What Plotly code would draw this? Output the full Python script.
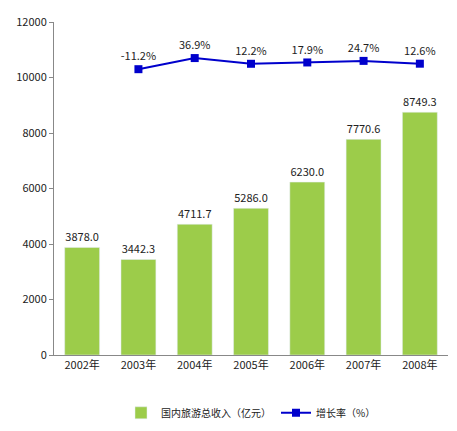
import plotly.graph_objects as go

years = ["2002年", "2003年", "2004年", "2005年", "2006年", "2007年", "2008年"]
revenue = [3878.0, 3442.3, 4711.7, 5286.0, 6230.0, 7770.6, 8749.3]
growth_years = years[1:]
growth = [-11.2, 36.9, 12.2, 17.9, 24.7, 12.6]
yticks = [0, 2000, 4000, 6000, 8000, 10000, 12000]

font = "Noto Sans CJK SC"
fig = go.Figure()
fig.add_trace(go.Bar(
    x=years, y=revenue, name="国内旅游总收入（亿元）",
    marker=dict(color="#9ccc4a"), width=0.62,
    text=[f"{v:.1f}" for v in revenue], textposition="outside",
    textfont=dict(size=11, color="#222"), cliponaxis=False,
))
fig.add_trace(go.Scatter(
    x=growth_years, y=growth, name="增长率（%）", yaxis="y2",
    mode="lines+markers+text", line=dict(color="#0000cc", width=2),
    marker=dict(symbol="square", size=8, color="#0000cc"),
    text=[f"{v:.1f}%" for v in growth], textposition="top center",
    textfont=dict(size=11, color="#222"), cliponaxis=False,
))
fig.update_layout(
    width=457, height=431, margin=dict(l=46, r=17, t=14, b=78),
    paper_bgcolor="white", plot_bgcolor="white",
    font=dict(family=font, size=11, color="#222"),
    xaxis=dict(showline=True, linecolor="#888", ticks="", showgrid=False),
    yaxis=dict(range=[0, 12000], tickvals=yticks, ticktext=[str(v) for v in yticks],
               showgrid=False, automargin=False,
               showline=True, linecolor="#888", ticks="outside", ticklen=4, tickcolor="#888"),
    yaxis2=dict(overlaying="y", range=[-1248, 193], visible=False),
    legend=dict(orientation="h", x=0.5, xanchor="center", y=-0.13, yanchor="top",
                font=dict(size=10)),
    bargap=0.38,
)
fig.write_html("out.html")
